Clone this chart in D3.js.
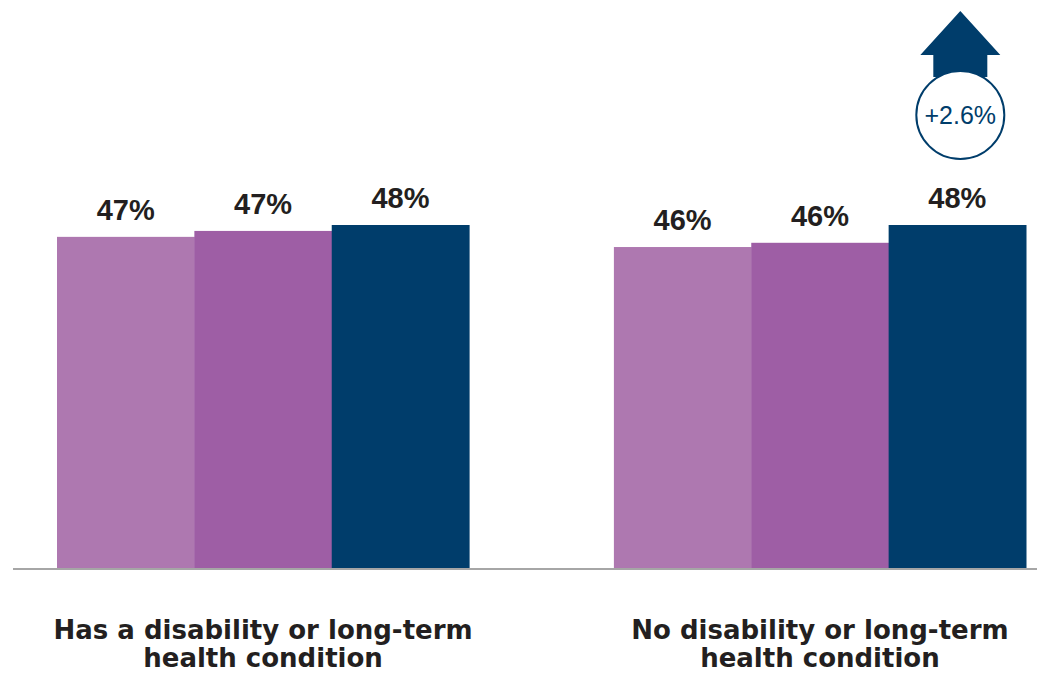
<!DOCTYPE html>
<html>
<head>
<meta charset="utf-8">
<script src="https://cdn.jsdelivr.net/npm/d3@7"></script>
<style>
  body { margin: 0; background: #fff; }
  svg { display: block; }
</style>
</head>
<body>
<script>
//// Data ////
const groups = ["Has a disability or long-term health condition", "No disability or long-term health condition"]
const groupLines = [["Has a disability or long-term", "health condition"], ["No disability or long-term", "health condition"]]
const periods = ["p1", "p2", "p3"]
const disabledValues = [46.7, 47.4, 48.1]
const nonDisabledValues = [45.5, 46.0, 48.1]

//// Layout ////
const WIDTH = 1037
const HEIGHT = 678
const BASE_Y = 569
const Y_MIN = 7.5
const COLORS = ["#ae78b0", "#9e5ea5", "#003d6b"]
const VALUE_FONT = "'Liberation Sans', Arial, sans-serif"
const CAT_FONT = "'DejaVu Sans', sans-serif"

const rows = groups.map((g, i) => ({
  group: g,
  lines: groupLines[i],
  values: i === 0 ? disabledValues : nonDisabledValues
}))

const svg = d3.select("body").append("svg")
  .attr("width", WIDTH)
  .attr("height", HEIGHT)

const x = d3.scaleBand().domain(groups).range([57, 1026]).paddingInner(0.26)
const xs = d3.scaleBand().domain(periods).range([0, x.bandwidth()])
const y = d3.scaleLinear().domain([Y_MIN, d3.max([...disabledValues, ...nonDisabledValues])]).range([BASE_Y, 225])
const color = d3.scaleOrdinal().domain(periods).range(COLORS)

const g = svg.selectAll("g.grp").data(rows).join("g")
  .attr("class", "grp")
  .attr("transform", d => `translate(${x(d.group)},0)`)

g.selectAll("rect").data(d => d.values.map((v, i) => ({ p: periods[i], v })))
  .join("rect")
  .attr("x", d => xs(d.p))
  .attr("y", d => y(d.v))
  .attr("width", xs.bandwidth() + 0.5)
  .attr("height", d => BASE_Y - y(d.v))
  .attr("fill", d => color(d.p))

g.selectAll("text.val").data(d => d.values.map((v, i) => ({ p: periods[i], v })))
  .join("text")
  .attr("class", "val")
  .attr("x", d => xs(d.p) + xs.bandwidth() / 2)
  .attr("y", d => y(d.v) - 17)
  .attr("text-anchor", "middle")
  .style("font-family", VALUE_FONT)
  .style("font-weight", 700)
  .style("font-size", "29px")
  .style("fill", "#231f20")
  .text(d => Math.round(d.v) + "%")

// baseline
svg.append("line")
  .attr("x1", 13).attr("x2", WIDTH)
  .attr("y1", BASE_Y).attr("y2", BASE_Y)
  .attr("stroke", "#a6a6a6")
  .attr("stroke-width", 2)

// category labels
g.append("text")
  .attr("text-anchor", "middle")
  .attr("x", x.bandwidth() / 2)
  .style("font-family", CAT_FONT)
  .style("font-weight", 700)
  .style("font-size", "26px")
  .style("fill", "#231f20")
  .selectAll("tspan").data(d => d.lines).join("tspan")
  .attr("x", x.bandwidth() / 2)
  .attr("y", (d, i) => 639 + i * 28)
  .text(d => d)

// change callout on the last bar of the second group
const change = nonDisabledValues[2] - nonDisabledValues[0]
const cx = x(groups[1]) + xs("p3") + xs.bandwidth() / 2 + 3
const cy = 115
const r = 44
const navy = "#003d6b"

svg.append("path")
  .attr("d", d3.line()([
    [cx - 27, cy - r + 6], [cx - 27, 55], [cx - 40, 55], [cx, 11],
    [cx + 40, 55], [cx + 27, 55], [cx + 27, cy - r + 6]
  ]) + "Z")
  .attr("fill", navy)

svg.append("circle")
  .attr("cx", cx).attr("cy", cy).attr("r", r)
  .attr("fill", "#fff")
  .attr("stroke", navy)
  .attr("stroke-width", 2)

svg.append("text")
  .attr("x", cx).attr("y", 124)
  .attr("text-anchor", "middle")
  .style("font-family", "'Liberation Sans', Arial, sans-serif")
  .style("font-size", "25px")
  .style("fill", navy)
  .text("+" + change.toFixed(1) + "%")
</script>
</body>
</html>
